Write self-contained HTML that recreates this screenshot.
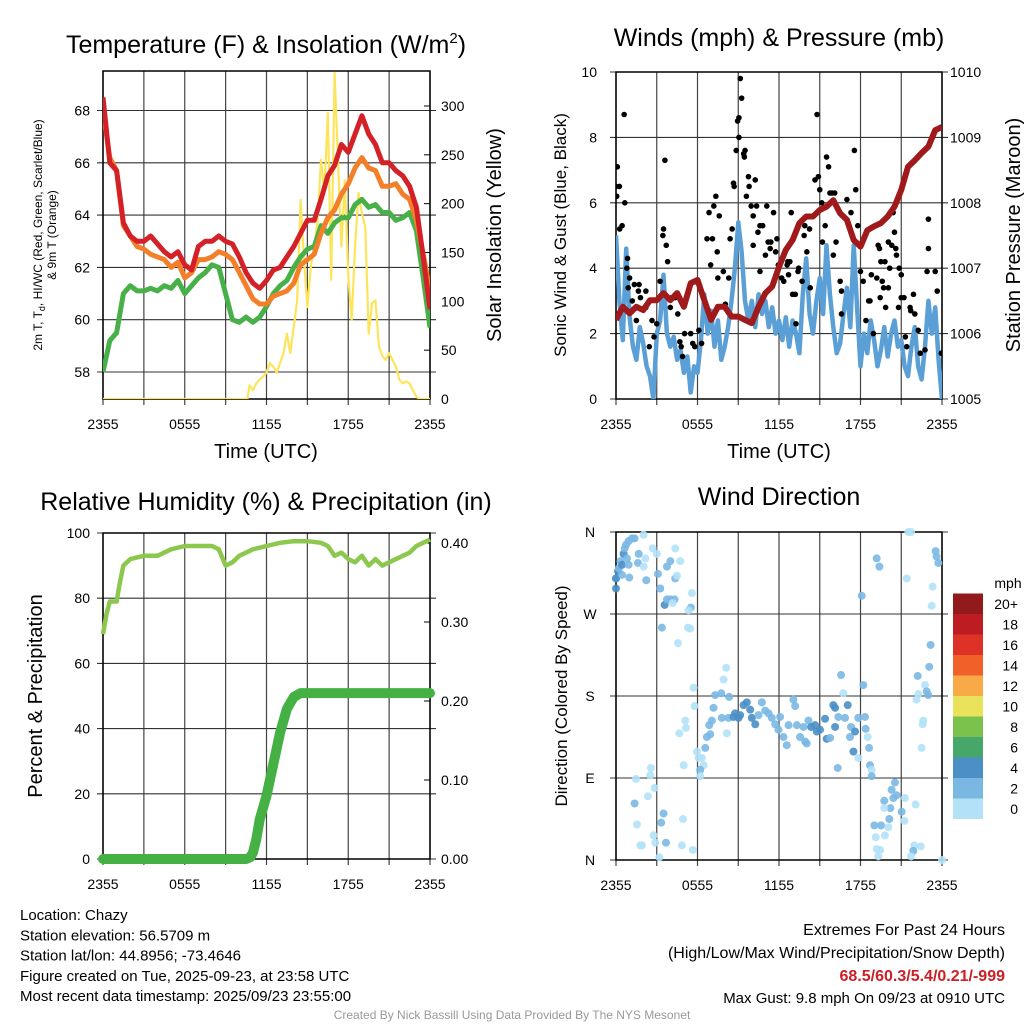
<!DOCTYPE html>
<html><head><meta charset="utf-8"><style>
html,body{margin:0;padding:0;background:#fff;}
svg{display:block;font-family:"Liberation Sans",sans-serif;}
</style></head><body>
<svg id="c" width="1024" height="1024" viewBox="0 0 1024 1024" xmlns="http://www.w3.org/2000/svg"></svg>
<script>
// ---------- DATA ----------
const tHalf = [0,0.5,1,1.5,2,2.5,3,3.5,4,4.5,5,5.5,6,6.5,7,7.5,8,8.5,9,9.5,10,10.5,11,11.5,12,12.5,13,13.5,14,14.5,15,15.5,16,16.5,17,17.5,18,18.5,19,19.5,20,20.5,21,21.5,22,22.5,23,23.5,24];
const tempRed = [68.5,66.0,65.7,63.7,63.2,63.0,63.0,63.2,62.9,62.6,62.4,62.6,62.1,61.9,62.8,63.0,63.0,63.2,63.0,62.9,62.4,61.8,61.4,61.2,61.5,61.9,62.0,62.4,62.8,63.3,63.8,63.8,64.6,65.5,65.9,66.7,66.4,67.1,67.8,67.1,66.7,66.0,66.0,65.7,65.5,65.1,64.3,62.4,60.4];
const temp9m = [68.0,66.2,65.7,63.6,63.2,62.8,62.7,62.5,62.4,62.3,62.0,62.2,61.6,61.8,62.3,62.3,62.4,62.6,62.5,62.3,61.8,61.3,60.8,60.6,60.6,60.9,61.0,61.1,61.4,62.1,62.3,62.5,63.3,63.9,64.2,64.8,65.2,65.8,66.2,65.8,65.7,65.1,65.1,65.2,64.8,64.6,63.8,62.5,61.1];
const dewpt = [58.0,59.2,59.5,61.0,61.3,61.1,61.1,61.2,61.1,61.3,61.2,61.5,61.0,61.3,61.6,61.8,62.1,62.0,61.0,60.0,59.9,60.1,59.9,60.1,60.5,61.0,61.3,61.5,62.0,62.4,62.7,62.8,63.6,63.3,63.7,63.9,63.9,64.4,64.6,64.3,64.4,64.1,64.1,63.8,63.9,64.1,63.4,61.6,59.7];
const solT = [0,10.6,10.75,11,11.25,11.5,11.75,12,12.25,12.5,12.75,13,13.25,13.5,13.75,14,14.25,14.5,14.75,15,15.25,15.5,15.75,16,16.25,16.5,16.75,17,17.25,17.5,17.75,18,18.25,18.5,18.75,19,19.25,19.5,19.75,20,20.25,20.5,20.75,21,21.25,21.5,21.75,22,22.25,22.5,22.75,23,23.25,24];
const solW = [0,0,14,9,16,20,23,27,37,33,27,37,47,67,47,74,101,204,142,94,135,156,183,245,211,293,122,334,245,156,224,125,81,156,211,190,176,67,98,101,54,44,40,47,40,33,20,16,18,16,9,2,0,0];
const windV = [5.0,3.0,1.8,4.6,2.5,1.6,1.2,2.2,1.7,1.0,0.7,0.0,2.0,2.4,3.8,2.0,1.6,1.9,1.2,1.5,0.8,1.3,0.2,1.0,0.8,1.8,3.2,2.0,2.7,1.6,2.4,1.2,1.6,2.2,3.0,4.0,5.4,4.5,3.0,2.4,3.0,2.2,3.2,2.6,3.0,2.2,2.8,2.0,2.4,1.8,2.5,1.6,2.4,2.0,1.4,3.2,4.3,2.6,2.0,3.0,3.7,2.6,4.7,3.2,2.2,1.4,1.7,2.6,3.4,2.2,4.7,2.8,1.0,2.0,1.4,2.4,1.8,1.0,1.5,2.2,1.3,2.0,2.4,1.6,1.8,1.0,0.7,1.6,2.2,1.0,0.6,1.6,3.0,2.0,2.8,1.2,0];
const windT = windV.map((_,i)=>i*0.25);
const pres = [1006.21,1006.41,1006.31,1006.41,1006.36,1006.51,1006.51,1006.62,1006.51,1006.62,1006.41,1006.77,1006.82,1006.51,1006.21,1006.41,1006.41,1006.26,1006.26,1006.21,1006.16,1006.41,1006.62,1006.72,1007.02,1007.28,1007.43,1007.69,1007.79,1007.79,1007.89,1007.94,1008.04,1007.84,1007.74,1007.43,1007.33,1007.58,1007.64,1007.69,1007.79,1007.94,1008.20,1008.55,1008.65,1008.76,1008.86,1009.11,1009.16];
const gustT = [0,0.25,0.1,0.05,0.6,0.65,0.45,0.27,0.85,0.8,1.0,0.9,1.35,1.2,1.7,1.65,1.8,1.5,2.2,2.2,2.65,3.0,2.8,2.45,3.6,3.5,3.45,3.7,3.8,3.25,4.1,4.0,4.35,4.55,5.05,4.7,4.8,5.5,5.8,6.1,5.65,4.9,6.3,6.7,6.85,7.1,7.2,7.35,7.45,7.6,6.97,7.5,7.9,8.3,8.4,8.55,8.05,8.65,8.7,8.95,9.05,9.05,9.15,9.25,8.85,9.4,9.5,9.45,9.6,9.75,9.8,10.25,9.95,10.35,10.1,10.6,10.45,10.8,11.1,10.1,11.2,11.6,11.85,11.4,11.0,11.35,11.75,10.6,11.95,12.2,12.35,12.6,12.65,12.8,12.7,12.9,13.0,13.2,13.45,13.7,13.25,13.4,13.85,13.9,14.25,14.05,14.3,14.65,14.8,14.9,15.0,15.15,15.2,15.4,15.5,15.65,15.75,15.9,16.0,16.1,16.2,16.5,16.6,16.6,17.0,17.3,17.55,17.65,17.8,18.0,18.2,18.4,18.6,18.7,18.8,18.95,19.2,19.3,19.4,19.45,19.5,19.6,19.7,19.8,19.85,20.05,20.15,20.05,20.3,20.4,20.5,20.6,20.65,20.8,20.85,21.0,21.0,21.2,21.4,21.3,21.65,21.7,21.9,22.0,22.25,22.4,22.75,23.0,23.0,22.9,23.5,23.65,23.95];
const gustV = [6.5,6.5,7.1,6.2,8.7,6.0,5.3,5.2,4.3,4.0,3.7,3.4,3.5,3.0,3.5,3.3,3.1,2.4,3.3,2.8,2.4,2.3,1.9,1.6,7.3,5.2,5.0,4.7,4.2,3.6,3.1,2.8,3.1,2.6,2.0,1.75,1.6,2.0,1.6,2.1,1.7,1.3,1.7,4.9,5.7,4.9,5.9,6.2,4.5,5.6,4.1,3.7,3.9,3.7,4.9,5.2,2.9,6.6,6.5,8.5,8.6,8.0,9.8,9.2,7.6,7.5,7.6,7.4,6.2,6.8,6.5,6.7,5.9,5.9,5.6,5.3,5.1,5.3,5.9,4.7,4.8,5.7,4.9,4.8,4.4,4.6,4.5,3.9,4.1,3.7,3.6,4.1,4.2,4.2,3.8,5.7,3.2,3.2,4.0,3.6,2.3,3.9,5.0,5.3,5.2,4.5,3.4,6.7,8.7,6.8,6.4,6.0,4.8,5.3,7.4,7.1,6.3,6.3,4.4,6.3,4.8,3.6,3.3,2.6,6.1,5.7,7.6,6.4,5.3,3.9,3.6,2.4,3.0,3.0,3.8,2.0,3.7,4.7,4.6,3.1,4.2,3.6,3.4,4.2,2.8,3.4,4.0,4.8,4.7,5.7,5.1,4.6,4.4,2.8,4.0,3.8,3.1,3.1,1.6,1.9,2.8,2.7,3.2,2.6,2.1,1.4,1.5,5.5,4.6,3.9,3.9,3.3,1.4];
const rhT = [0,0.25,0.5,1,1.25,1.5,2,3,4,5,6,7,8,8.5,9,9.5,10,11,12,13,14,15,16,16.5,17,17.5,18,18.5,19,19.5,20,20.5,21,22,22.5,23,23.5,24];
const rhV = [69,75,79,79,85,90,92,93,93,95,96,96,96,95,90,91,93,95,96,97,97.5,97.5,97,96,93,94,92,91,93,90,92,90,91,93,94,96,97,98];
const prT = [0,10.5,10.8,11,11.25,11.5,12,12.5,13,13.5,14,14.5,24];
const prV = [0,0,0.002,0.008,0.025,0.05,0.08,0.12,0.16,0.19,0.205,0.21,0.21];
const dirT = [0,0,0,0.15,0.2,0.32,0.44,0.56,0.64,0.74,0.93,1.18,1.37,0.81,0.93,0.44,0.98,1.67,1.62,2.03,2.16,2.03,2.7,3.01,2.23,3.09,3.26,3.75,4.0,4.36,4.49,4.73,4.36,3.58,3.75,4.0,4.31,4.17,5.59,5.51,5.34,3.38,5.29,5.47,4.56,
5.71,5.78,5.1,5.15,4.66,4.98,5.96,6.08,6.32,6.45,6.2,6.2,6.57,6.69,6.94,6.86,7.06,7.3,7.18,7.75,8.33,8.11,7.92,7.79,8.28,8.16,8.65,8.77,9.02,9.14,9.39,9.63,9.88,10.0,10.25,10.49,10.74,10.98,11.23,11.47,11.72,11.96,12.08,12.33,12.57,12.7,13.06,13.19,13.31,13.55,13.8,13.92,14.04,14.17,14.36,14.66,14.78,15.02,15.39,15.51,15.76,16.0,16.13,16.13,16.37,16.57,16.74,16.86,17.06,17.3,17.23,17.48,17.6,17.84,18.21,18.33,18.38,18.53,18.63,17.84,16.32,18.7,18.82,18.82,
1.47,1.37,1.54,2.57,2.52,2.84,2.35,3.5,3.33,3.68,2.89,1.91,1.79,2.77,3.19,4.93,4.85,5.66,
19.19,19.39,18.09,21.4,21.52,21.72,23.53,23.6,23.73,23.31,23.24,23.16,23.06,22.21,22.25,22.13,22.75,22.87,22.99,22.62,22.57,22.5,20.54,20.29,20.42,20.66,21.27,22.06,19.75,20.2,19.75,21.03,21.23,20.12,19.51,19.02,20.05,19.12,19.8,21.96,19.19,19.44,19.31,22.43,21.89,21.72,24];
const dirDeg = [298,309,309,317,320,328,324,336,342,346,350,353,353,331,324,313,310,336,326,322,331,357,342,336,307,314,298,322,328,309,312,328,342,280,286,286,286,282,293,277,274,255,255,254,238,
189,169,153,145,139,104,119,112,112,104,99,92,123,135,138,148,153,181,167,183,179,211,198,156,156,139,157,161,156,159,170,173,165,156,149,159,173,164,161,156,149,143,157,135,126,148,176,169,148,135,146,130,128,153,146,148,141,143,155,133,134,170,167,146,157,203,183,156,170,146,135,119,141,156,192,157,144,135,123,112,101,104,99,92,
89,62,39,101,93,79,70,51,41,19,19,16,16,27,3,45,16,11,
331,322,290,309,360,360,339,333,326,300,279,236,212,202,182,176,192,185,181,153,149,123,85,77,68,71,68,61,65,57,57,53,43,45,38,38,36,25,27,16,12,11,4,15,10,4,0];
const dirSpd = [5,3,5,5,3,3,5,5,3,3,3,3,3,3,3,3,3,3,3,1,1,1,1,1,3,3,3,3,3,3,1,1,1,5,3,3,3,1,1,3,1,3,1,1,1,
1,1,1,1,1,1,1,1,1,1,3,1,3,3,3,3,3,3,3,3,3,1,1,3,3,1,5,5,5,5,5,5,5,5,5,3,3,3,3,3,3,3,3,3,3,3,3,3,3,3,3,3,3,3,5,5,5,5,5,5,3,5,5,5,3,3,1,3,5,3,3,5,5,3,3,3,3,1,3,1,3,3,1,3,
1,3,1,1,1,1,1,3,3,3,1,1,1,1,1,1,1,1,
3,3,3,1,1,1,3,3,3,1,1,3,3,3,1,1,1,3,3,1,1,1,3,3,3,3,1,1,3,3,1,3,1,3,3,3,1,1,1,1,1,1,1,1,3,1,1];
const xTickLabels = ["2355","0555","1155","1755","2355"];
const tempTicks = [58,60,62,64,66,68];
const solTicks = [0,50,100,150,200,250,300];
const windTicks = [0,2,4,6,8,10];
const presTicks = [1005,1006,1007,1008,1009,1010];
const rhTicks = [0,20,40,60,80,100];
const prTicks = [0,0.10,0.20,0.30,0.40];
const dirTicks = [0,90,180,270,360];
const dirLabels = ["N","E","S","W","N"];
const cbLabels = ["0","2","4","6","8","10","12","14","16","18","20+"];
const cbColors = ["#b3e2f8","#7ab8e3","#4a8fc6","#47a76b","#7bc24d","#e8e35a","#f8aa47","#f06129","#de3226","#bd1c23","#921a1c"];

// ---------- HELPERS ----------
const svg = document.getElementById('c');
const NS = "http://www.w3.org/2000/svg";
function mk(tag, attrs, parent){const e=document.createElementNS(NS,tag);for(const k in attrs)e.setAttribute(k,attrs[k]);(parent||svg).appendChild(e);return e;}
function txt(s,x,y,size,anchor,parent,extra){const e=mk('text',Object.assign({x:x,y:y,'font-size':size,'text-anchor':anchor||'middle',fill:'#000'},extra||{}),parent);e.textContent=s;return e;}
function lin(a,b,c,d){return v=>c+(v-a)*(d-c)/(b-a);}
function pathFrom(xs,ys,fx,fy){return xs.map((t,i)=>(i?'L':'M')+fx(t).toFixed(1)+','+fy(ys[i]).toFixed(1)).join('');}

function panel(name,x0,x1,y0,y1,hTicks,fyL){
  const g=mk('g',{});
  
  
  const fx=lin(0,24,x0,x1);
  for(let h=0;h<=24;h+=3){const l=mk('line',{x1:fx(h),x2:fx(h),y1:y0,y2:y1+6,stroke:'#444','stroke-width':1.2},g);}
  hTicks.forEach(v=>{const l=mk('line',{x1:x0-6,x2:x1+6,y1:fyL(v),y2:fyL(v),stroke:'#333','stroke-width':1.1},g);});
  const r=mk('rect',{x:x0,y:y0,width:x1-x0,height:y1-y0,fill:'none',stroke:'#000','stroke-width':1.5},g);
  
  [0,6,12,18,24].forEach((h,i)=>{const t=txt(xTickLabels[i],fx(h),y1+30,14,'middle',g);});
  return {g,fx};
}

// ---------- PANEL 1 ----------
(function(){
  const fyL=v=>372-(v-58)*26.15, fyR=v=>399-v*0.9767;
  const {g,fx}=panel('temperature-panel',103,430,71,399,tempTicks,fyL);
  tempTicks.forEach(v=>{const t=txt(String(v),90,fyL(v)+5,14,'end',g);});
  solTicks.forEach(v=>{const t=txt(String(v),441,fyR(v)+5,14,'start',g);
    const l=mk('line',{x1:430,x2:424,y1:fyR(v),y2:fyR(v),stroke:'#000'},g);});
  const cp=mk('clipPath',{id:'cp1'},g);mk('rect',{x:103,y:71,width:327,height:328},cp);
  const s=mk('g',{'clip-path':'url(#cp1)'},g);
  let p=mk('path',{d:pathFrom(solT,solW,fx,fyR),fill:'none',stroke:'#fde55b','stroke-width':2.2,'stroke-linejoin':'round'},s);
  p=mk('path',{d:pathFrom(tHalf,dewpt,fx,fyL),fill:'none',stroke:'#47b048','stroke-width':5,'stroke-linejoin':'round'},s);
  p=mk('path',{d:pathFrom(tHalf,temp9m,fx,fyL),fill:'none',stroke:'#f47f2b','stroke-width':5,'stroke-linejoin':'round'},s);
  p=mk('path',{d:pathFrom(tHalf,tempRed,fx,fyL),fill:'none',stroke:'#d42027','stroke-width':5,'stroke-linejoin':'round'},s);
  let t=mk('text',{x:266,y:53,'font-size':25,'text-anchor':'middle'},g);t.innerHTML='Temperature (F) &amp; Insolation (W/m<tspan dy="-10" font-size="15">2</tspan><tspan dy="10">)</tspan>';
  t=txt('Time (UTC)',266,458,20,'middle',g);
  t=mk('text',{x:0,y:0,'font-size':12,'text-anchor':'middle',transform:'translate(42,235) rotate(-90)'},g);t.innerHTML='2m T, T<tspan dy="3" font-size="9">d</tspan><tspan dy="-3">, HI/WC (Red, Green, Scarlet/Blue)</tspan>';
  t=txt('& 9m T (Orange)',0,0,12,'middle',g,{transform:'translate(56,235) rotate(-90)'});
  t=txt('Solar Insolation (Yellow)',0,0,20,'middle',g,{transform:'translate(501,235) rotate(-90)'});
})();

// ---------- PANEL 2 ----------
(function(){
  const fyL=v=>399-v*32.7, fyR=v=>399-(v-1005)*65.4;
  const {g,fx}=panel('wind-pressure-panel',616,942,72,399,windTicks,fyL);
  windTicks.forEach(v=>{const t=txt(String(v),597,fyL(v)+5,14,'end',g);});
  presTicks.forEach(v=>{const t=txt(String(v),950,fyR(v)+5,14,'start',g);});
  const cp=mk('clipPath',{id:'cp2'},g);mk('rect',{x:616,y:72,width:326,height:327},cp);
  const s=mk('g',{'clip-path':'url(#cp2)'},g);
  let p=mk('path',{d:pathFrom(windT,windV,fx,fyL),fill:'none',stroke:'#5a9fd6','stroke-width':4.5,'stroke-linejoin':'round'},s);
  gustT.forEach((t,i)=>{const c=mk('circle',{cx:fx(t),cy:fyL(gustV[i]),r:2.8,fill:'#000'},s);
    
    });
  p=mk('path',{d:pathFrom(tHalf,pres,fx,fyR),fill:'none',stroke:'#a01a1c','stroke-width':6,'stroke-linejoin':'round'},s);
  let t=txt('Winds (mph) & Pressure (mb)',779,46,25,'middle',g);
  t=txt('Time (UTC)',779,458,20,'middle',g);
  t=txt('Sonic Wind & Gust (Blue, Black)',0,0,17,'middle',g,{transform:'translate(566,235) rotate(-90)'});
  t=txt('Station Pressure (Maroon)',0,0,20,'middle',g,{transform:'translate(1020,235) rotate(-90)'});
})();

// ---------- PANEL 3 ----------
(function(){
  const fyL=v=>859-v*3.26, fyR=v=>859-v*790;
  const {g,fx}=panel('humidity-precip-panel',103,430,533,859,rhTicks,fyL);
  rhTicks.forEach(v=>{const t=txt(String(v),90,fyL(v)+5,14,'end',g);});
  prTicks.forEach(v=>{const t=txt(v.toFixed(2),441,fyR(v)+5,14,'start',g);
    const l=mk('line',{x1:430,x2:424,y1:fyR(v),y2:fyR(v),stroke:'#000'},g);});
  let p=mk('path',{d:pathFrom(rhT,rhV,fx,fyL),fill:'none',stroke:'#8cc84e','stroke-width':4.5,'stroke-linejoin':'round'},g);
  p=mk('path',{d:pathFrom(prT,prV,fx,fyR),fill:'none',stroke:'#45b043','stroke-width':10,'stroke-linejoin':'round','stroke-linecap':'round'},g);
  let t=txt('Relative Humidity (%) & Precipitation (in)',266,510,25,'middle',g);
  t=txt('Percent & Precipitation',0,0,20,'middle',g,{transform:'translate(42,696) rotate(-90)'});
})();

// ---------- PANEL 4 ----------
(function(){
  const fy=v=>860-v*0.9111;
  const {g,fx}=panel('wind-direction-panel',616,942,532,860,dirTicks,fy);
  dirTicks.forEach((v,i)=>{const t=txt(dirLabels[i],590,fy(v)+5,14,'middle',g);});
  const colorFor=s=>cbColors[Math.min(10,Math.floor(s/2))];
  dirT.forEach((t,i)=>{const c=mk('circle',{cx:fx(t),cy:fy(dirDeg[i]),r:4,fill:colorFor(dirSpd[i]),'fill-opacity':0.9},g);
    
    });
  let t=txt('Wind Direction',779,505,25,'middle',g);
  t=txt('Direction (Colored By Speed)',0,0,17,'middle',g,{transform:'translate(567,696) rotate(-90)'});
  const lg=mk('g',{},g);
  cbColors.forEach((c,i)=>{const r=mk('rect',{x:953,y:819-(i+1)*20.5,width:30,height:20.5,fill:c},lg);
    const tt=txt(cbLabels[i],1018,819-i*20.5-5,14,'end',lg);});
  t=txt('mph',1008,588,14,'middle',lg);
})();

// ---------- FOOTER ----------
(function(){
  const g=mk('g',{});
  const left=['Location: Chazy','Station elevation: 56.5709 m','Station lat/lon: 44.8956; -73.4646','Figure created on Tue, 2025-09-23, at 23:58 UTC','Most recent data timestamp: 2025/09/23 23:55:00'];
  left.forEach((s,i)=>{const t=txt(s,20,920+i*20.3,15,'start',g);});
  let t=txt('Extremes For Past 24 Hours',1005,935,16,'end',g);
  t=txt('(High/Low/Max Wind/Precipitation/Snow Depth)',1005,958,16,'end',g);
  t=txt('68.5/60.3/5.4/0.21/-999',1005,981,16,'end',g,{fill:'#cc1f26','font-weight':'bold'});
  t=txt('Max Gust: 9.8 mph On 09/23 at 0910 UTC',1005,1003,15,'end',g);
  t=txt('Created By Nick Bassill Using Data Provided By The NYS Mesonet',512,1019,12,'middle',g,{fill:'#999'});
})();
</script>
</body></html>
